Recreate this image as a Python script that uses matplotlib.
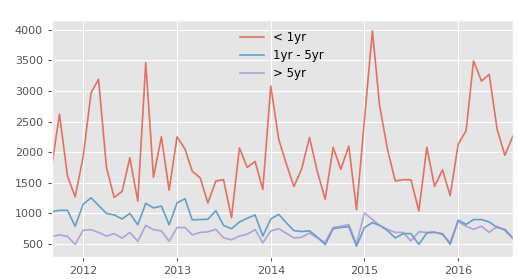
import matplotlib
matplotlib.use("Agg")
import matplotlib.pyplot as plt
import matplotlib.dates as mdates
import pandas as pd

# === ข้อมูลรายเดือน ก.ย. 2011 - ส.ค. 2016
start_month = "2011-09-01"
n_months = 60

under_1yr = [
    1780, 2620, 1610, 1270, 1920, 2970, 3190, 1750, 1260, 1360,
    1910, 1200, 3460, 1590, 2250, 1380, 2250, 2050, 1690, 1580,
    1170, 1530, 1550, 930, 2070, 1750, 1850, 1390, 3080, 2210,
    1830, 1440, 1720, 2240, 1690, 1230, 2080, 1720, 2100, 1060,
    2530, 3980, 2760, 2040, 1530, 1550, 1550, 1040, 2080, 1440,
    1710, 1290, 2130, 2350, 3490, 3160, 3270, 2370, 1950, 2260,
]
yr1_to_5 = [
    1030, 1050, 1050, 790, 1150, 1255, 1130, 1000, 975, 910,
    1000, 815, 1165, 1090, 1120, 815, 1170, 1240, 895, 900,
    905, 1045, 805, 750, 860, 920, 975, 630, 910, 985,
    855, 720, 705, 715, 615, 490, 750, 770, 785, 465,
    770, 850, 805, 720, 600, 670, 670, 495, 680, 690,
    670, 495, 890, 820, 900, 900, 860, 770, 740, 600,
]
over_5yr = [
    625, 650, 625, 495, 725, 735, 690, 630, 670, 597,
    690, 545, 805, 735, 715, 545, 770, 770, 650, 690,
    700, 740, 600, 570, 630, 660, 735, 520, 715, 750,
    680, 600, 610, 680, 600, 530, 770, 790, 820, 500,
    1010, 900, 805, 740, 690, 690, 550, 700, 690, 700,
    650, 530, 865, 790, 740, 790, 690, 790, 720, 590,
]
labels = ["< 1yr", "1yr - 5yr", "> 5yr"]

dates = pd.date_range(start_month, periods=n_months, freq="MS")

plt.style.use("ggplot")

fig = plt.figure(figsize=(5.18, 2.79), dpi=100)
ax = fig.add_axes([0.100, 0.079, 0.890, 0.849])

colors = ["#E24A33", "#348ABD", "#988ED5"]
for series, label, c in zip([under_1yr, yr1_to_5, over_5yr], labels, colors):
    ax.plot(dates, series, color=c, lw=1.2, alpha=0.75, label=label)

ax.set_xlim(dates[0], dates[-1])
ax.xaxis.set_major_locator(mdates.YearLocator())
ax.xaxis.set_major_formatter(mdates.DateFormatter("%Y"))
ax.set_yticks([500, 1000, 1500, 2000, 2500, 3000, 3500, 4000])
ax.tick_params(labelsize=8, colors="#555555", length=3)

leg = ax.legend(loc="upper center", fontsize=8.5, frameon=False,
                labelspacing=0.45)

fig.savefig("out.png", dpi=100)
plt.close(fig)
